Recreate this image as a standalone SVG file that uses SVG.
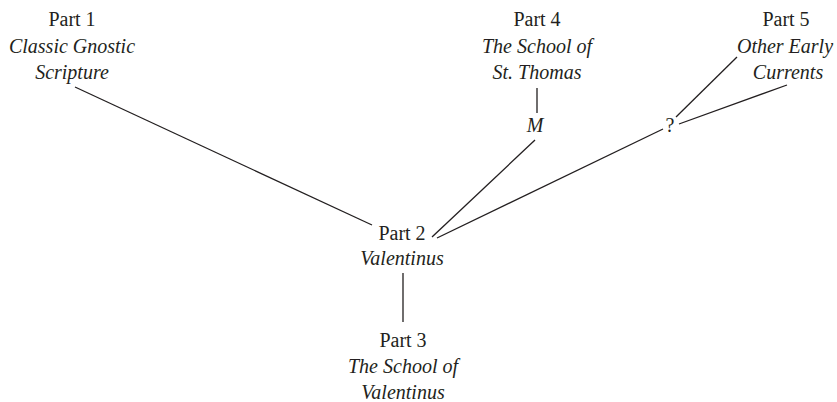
<svg xmlns="http://www.w3.org/2000/svg" width="837" height="402" viewBox="0 0 837 402">
<style>
text{font-family:"Liberation Serif","Times New Roman",serif;font-size:20px;fill:#231f20;text-anchor:middle}
.i{font-style:italic}
.c line{stroke:#231f20;stroke-width:1.3}
</style>
<rect width="837" height="402" fill="#fff"/>
<g class="c" id="connectors">
<line x1="75" y1="87" x2="372" y2="225"/>
<line x1="537" y1="88" x2="537" y2="113"/>
<line x1="535" y1="140" x2="432" y2="237"/>
<line x1="663" y1="129" x2="437" y2="238"/>
<line x1="676" y1="117" x2="737" y2="57"/>
<line x1="679" y1="124" x2="787" y2="85"/>
<line x1="403" y1="273" x2="403" y2="322"/>
</g>
<g id="part1"><text x="72" y="26">Part 1</text><text class="i" x="72" y="53">Classic Gnostic</text><text class="i" x="72" y="79">Scripture</text></g>
<g id="part4"><text x="537" y="26">Part 4</text><text class="i" x="537" y="53">The School of</text><text class="i" x="537" y="79">St. Thomas</text></g>
<g id="m"><text class="i" x="535" y="132">M</text></g>
<g id="part5"><text x="786" y="26">Part 5</text><text class="i" x="785" y="53">Other Early</text><text class="i" x="788" y="79">Currents</text></g>
<g id="q"><text x="670" y="132">?</text></g>
<g id="part2"><text x="402" y="240">Part 2</text><text class="i" x="402" y="265">Valentinus</text></g>
<g id="part3"><text x="403" y="347">Part 3</text><text class="i" x="403" y="373">The School of</text><text class="i" x="403" y="399">Valentinus</text></g>
</svg>
